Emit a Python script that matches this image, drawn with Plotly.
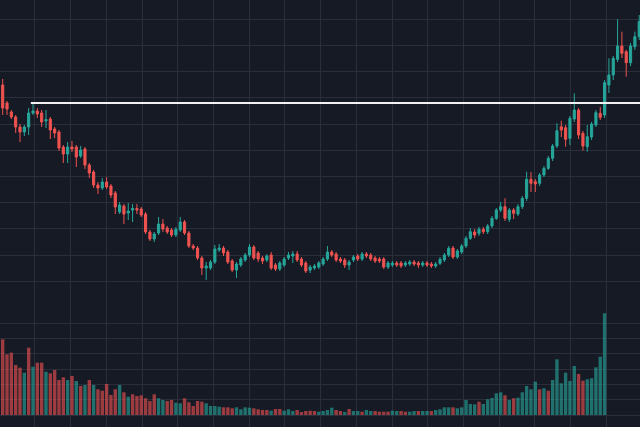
import plotly.graph_objects as go
from plotly.subplots import make_subplots

# price values are in chart units (only the shape of the curve matters, no labels shown)
opens = [223, 205, 196, 191, 181, 176, 181, 195, 197, 195, 187, 189, 179, 176, 161, 154, 161, 161, 152, 159,
         143, 136, 123, 120, 126, 122, 115, 96, 102, 95, 98, 99.5, 99, 94, 76, 69, 75, 84, 80, 78,
         73, 78, 86, 75, 62, 60, 50, 40, 40, 46, 58, 60, 56, 47, 38, 43, 48, 53, 61, 55,
         50, 48, 53, 43, 39, 43, 50, 52, 54, 49, 45, 38, 40, 41, 44, 49, 56, 54, 49, 48,
         43, 48, 52, 49, 54, 53, 50, 49, 49, 41, 43, 45, 45, 43, 44, 46, 45, 43, 45, 44,
         42, 44.7, 48, 53, 60, 51, 56, 62, 69.7, 76, 74.7, 78.7, 76.3, 82, 89.7, 98, 101.3, 88.7, 98, 94,
         101.3, 109.7, 128.7, 126.3, 124.7, 133, 139.7, 149.7, 162, 181.3, 180.3, 169.7, 189, 198, 174.7, 161.3, 171, 183, 194.7, 193,
         223, 233, 248.7, 262, 256.3, 245.3, 261.3, 271.3]
highs = [229, 207, 198, 193, 184, 183, 200, 204, 200, 198, 198, 191, 181, 178, 163, 166, 167, 163, 162, 161,
         145, 138, 126, 130, 131, 124, 117, 106, 104, 105, 104, 104, 101, 96, 78, 76, 91, 89, 82, 80,
         81, 91, 88, 77, 64, 62, 52, 46, 48, 63, 64, 62, 58, 49, 46, 51, 55, 64, 63, 57,
         52, 54, 56, 45, 47, 51, 56, 57, 57, 51, 47, 43, 44, 47, 51, 62, 58, 56, 51, 50,
         48, 53, 54, 56, 56, 55, 52, 51, 51, 47, 47, 47, 47, 47, 48, 48, 47, 47, 47, 46,
         46, 51, 55, 62, 62, 59, 64, 72, 80, 79, 81, 81, 84, 92, 100, 106, 109.7, 100, 100, 104,
         112, 136.3, 136, 129, 135, 142, 152, 164, 184.7, 187.3, 183, 192, 214.7, 200, 177, 183, 186, 198, 201, 228,
         249.7, 252, 288.7, 276.3, 258, 265, 276.3, 293]
lows = [193, 193, 189, 175, 166, 172, 173, 193, 190, 181, 180, 169, 170, 157, 145, 145, 156, 141, 150, 139,
        130, 120, 114, 118, 119, 110, 94, 94, 84, 88, 86, 94, 91, 74, 67, 66, 73, 76, 74, 71,
        71, 76, 73, 60, 58, 48, 33, 28, 38, 44, 56, 52, 44, 36, 30, 41, 46, 51, 48, 46,
        44, 46, 38, 37, 37, 41, 48, 45, 46, 41, 35, 35, 38, 39, 42, 47, 51, 46, 45, 40,
        38, 46, 47, 47, 50, 47, 45, 45, 39, 39, 41, 41, 40, 41, 42, 42, 40, 41, 41, 40,
        40, 43, 46, 51, 49, 49, 54, 60, 68, 70, 72, 74, 74, 80, 88, 96, 87, 86, 89, 92,
        99, 107, 116, 116, 122, 131, 138, 147, 160, 171, 161.3, 163, 186, 169, 157.3, 156.3, 168, 181, 188, 190,
        215, 228, 246, 250, 231.3, 242, 258, 268]
closes = [200, 199, 191, 181, 176, 181, 195, 197, 194, 186, 188.5, 178, 175, 160, 154, 161, 159, 151, 158, 143,
          135, 123, 120, 126, 121, 113, 101, 103, 94, 97, 99.5, 98, 93, 76, 69, 74, 84, 79, 76, 73,
          78.7, 86, 75, 62, 60, 50, 40, 42, 46, 59, 60, 55, 46, 38, 44, 49, 53, 61, 50, 49,
          47, 52, 40, 39, 45, 49, 53, 54, 48, 43, 37, 41, 42, 45, 49, 56, 53, 48, 47, 43,
          46, 51, 49, 54, 52, 49, 47, 47, 41, 45, 45, 43, 42, 45, 46, 44, 43, 45, 43, 42,
          44, 48.7, 53, 59.7, 51, 57, 62, 69.7, 76.3, 73, 78.7, 76.3, 82, 89.7, 98, 101.3, 89.7, 98, 94.7, 101.3,
          109.7, 128.7, 124.7, 124, 133, 139.7, 149.7, 162, 177.3, 178, 168.7, 189.7, 198, 173, 162, 171.3, 184, 195.3, 190.7, 225.3,
          233, 249.7, 262, 254.7, 245.3, 262, 271.3, 286.3]

volume = [75.7, 60.7, 62.3, 50, 47.3, 42.3, 67.3, 48.3, 52.3, 52.3, 43.3, 41.7, 45, 35, 37.7, 35, 39, 34, 29, 30,
          35, 30, 25.7, 24.3, 31, 20, 25.7, 30, 22.7, 18.3, 20.7, 19, 19.7, 16.7, 14, 20.7, 16.7, 15, 14, 15,
          12.3, 11.7, 16.7, 12.7, 9, 14, 13.3, 11.7, 9, 9, 8.3, 7.7, 7.7, 6.7, 7.7, 5.7, 7.7, 7.3, 6.7, 5.7,
          5, 5, 4.3, 6, 6, 4.3, 5.7, 4, 5, 3, 4, 4.3, 4, 3.3, 4, 5, 7.3, 5, 4, 3,
          6, 4, 4, 3.3, 5, 4, 4, 3.3, 3.3, 3.3, 4.3, 4, 4, 3.3, 3.3, 4, 4, 4, 4, 4,
          5, 5.7, 7.7, 7.7, 7.7, 6.7, 7.7, 15, 11, 10.7, 13.3, 11, 15.7, 17, 21.7, 22.7, 19.7, 15, 16.7, 17.3,
          22.7, 29, 25.7, 33.3, 25.7, 26.7, 24.3, 35, 55.7, 31.7, 42.3, 34, 49, 41, 34.3, 35.7, 36.7, 47.7, 58.3, 101.7]
# 1 = green volume bar, 0 = red
volume_up = [0, 0, 0, 0, 0, 1, 0, 1, 0, 0, 1, 0, 0, 0, 0, 1, 0, 1, 0, 1,
             0, 1, 0, 0, 0, 0, 0, 1, 0, 1, 0, 0, 0, 0, 0, 0, 1, 1, 0, 0,
             1, 1, 0, 0, 0, 0, 0, 1, 1, 1, 1, 0, 0, 0, 1, 1, 1, 1, 0, 0,
             0, 0, 1, 0, 0, 1, 1, 1, 0, 0, 0, 0, 0, 1, 1, 1, 1, 0, 0, 1,
             0, 1, 1, 0, 1, 1, 0, 0, 0, 0, 1, 1, 0, 0, 1, 1, 0, 1, 1, 0,
             1, 1, 1, 1, 0, 1, 1, 1, 1, 1, 0, 1, 1, 1, 1, 1, 0, 1, 0, 1,
             1, 1, 1, 1, 0, 1, 0, 1, 1, 1, 1, 1, 1, 0, 0, 1, 1, 1, 1, 1]

resistance = 205
resistance_start = 6.5

idx = list(range(len(opens)))

UP = "#26a69a"
DOWN = "#ef5350"
UP_VOL = "rgba(38,166,154,0.62)"
DOWN_VOL = "rgba(239,83,80,0.62)"
BG = "#161a25"
GRID = "#2a2e3a"

fig = make_subplots(rows=2, cols=1, shared_xaxes=True, vertical_spacing=0,
                    row_heights=[308 / 427, 119 / 427])

fig.add_trace(go.Candlestick(
    x=idx, open=opens, high=highs, low=lows, close=closes,
    increasing=dict(line=dict(color=UP, width=1), fillcolor=UP),
    decreasing=dict(line=dict(color=DOWN, width=1), fillcolor=DOWN),
    showlegend=False, hoverinfo="skip"
), row=1, col=1)

fig.add_trace(go.Bar(
    x=list(range(len(volume))), y=volume,
    marker=dict(color=[UP_VOL if u else DOWN_VOL for u in volume_up], line=dict(width=0)),
    showlegend=False, hoverinfo="skip"
), row=2, col=1)

x_range = [-0.62, 147.18]

fig.add_shape(type="line", xref="x", yref="y",
              x0=resistance_start, x1=x_range[1], y0=resistance, y1=resistance,
              line=dict(color="#f2f2f2", width=2.2))

axis_common = dict(showticklabels=False, ticks="", showline=False, zeroline=False,
                   showgrid=True, gridcolor=GRID, gridwidth=1)

fig.update_xaxes(range=x_range, tick0=7.46, dtick=8.245, rangeslider_visible=False, **axis_common)
fig.update_yaxes(range=[0, 308], tick0=288.7, dtick=26.2, row=1, col=1, **axis_common)
fig.update_yaxes(range=[-12, 107], tick0=0, dtick=15.3, row=2, col=1, **axis_common)

fig.update_layout(
    width=640, height=427,
    margin=dict(l=0, r=0, t=0, b=0),
    paper_bgcolor=BG, plot_bgcolor=BG,
    bargap=0.22,
    showlegend=False,
)

# page body has a default 8px margin; drop it so the chart fills the window
fig.write_html("out.html", config={"displayModeBar": False},
               post_script="document.body.style.margin='0';document.body.style.background='%s';" % BG)
